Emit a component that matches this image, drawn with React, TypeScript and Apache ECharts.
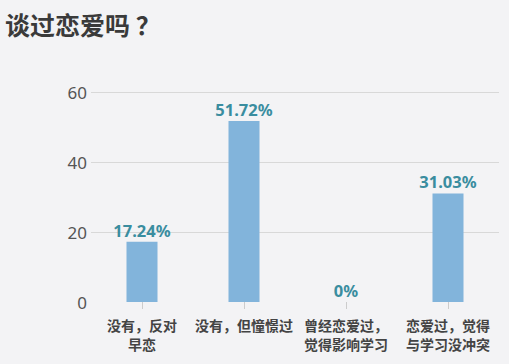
import React, { useEffect, useRef } from "react";
import * as echarts from "echarts";

const title = "谈过恋爱吗 ？";
const categories = ["没有，反对\n早恋", "没有，但憧憬过", "曾经恋爱过，\n觉得影响学习", "恋爱过，觉得\n与学习没冲突"];
const values = [17.24, 51.72, 0, 31.03];
const yTicks = [0, 20, 40, 60];

export default function App() {
  const ref = useRef<HTMLDivElement>(null);
  useEffect(() => {
    const chart = echarts.init(ref.current!, undefined, { renderer: "svg" });
    chart.setOption({
      animation: false,
      backgroundColor: "#f3f3f5",
      title: {
        text: title,
        left: 0,
        top: 6,
        textStyle: { fontSize: 25, fontWeight: "bold", color: "#3a3a3a", fontFamily: "Noto Sans CJK SC" },
      },
      grid: { left: 91, right: 10, top: 92, bottom: 62 },
      xAxis: {
        type: "category",
        data: categories,
        axisLine: { show: false },
        axisTick: { show: true, alignWithLabel: true, length: 7, lineStyle: { color: "#cccccc" } },
        axisLabel: {
          interval: 0,
          margin: 13,
          fontSize: 14,
          lineHeight: 19,
          fontWeight: "bold",
          color: "#444444",
          fontFamily: "Noto Sans CJK SC",
        },
      },
      yAxis: {
        type: "value",
        min: yTicks[0],
        max: yTicks[yTicks.length - 1],
        interval: 20,
        axisLine: { show: false },
        axisTick: { show: false },
        axisLabel: { fontSize: 17, color: "#555555", margin: 4, fontFamily: "Noto Sans" },
        splitLine: {
          show: true,
          lineStyle: { color: ["rgba(0,0,0,0)", "#d8d8d8", "#d8d8d8", "#d8d8d8"] },
        },
      },
      series: [
        {
          type: "bar",
          data: values,
          barWidth: 31,
          itemStyle: { color: "#82b4db" },
          label: {
            show: true,
            position: "top",
            distance: 3,
            formatter: (p: any) => p.value + "%",
            fontSize: 16.5,
            fontWeight: "bold",
            color: "#3a8d9f",
            fontFamily: "Noto Sans",
          },
        },
      ],
    });
    return () => chart.dispose();
  }, []);
  return (
    <div
      ref={ref}
      style={{ position: "fixed", left: 0, top: 0, width: 509, height: 364 }}
    />
  );
}
